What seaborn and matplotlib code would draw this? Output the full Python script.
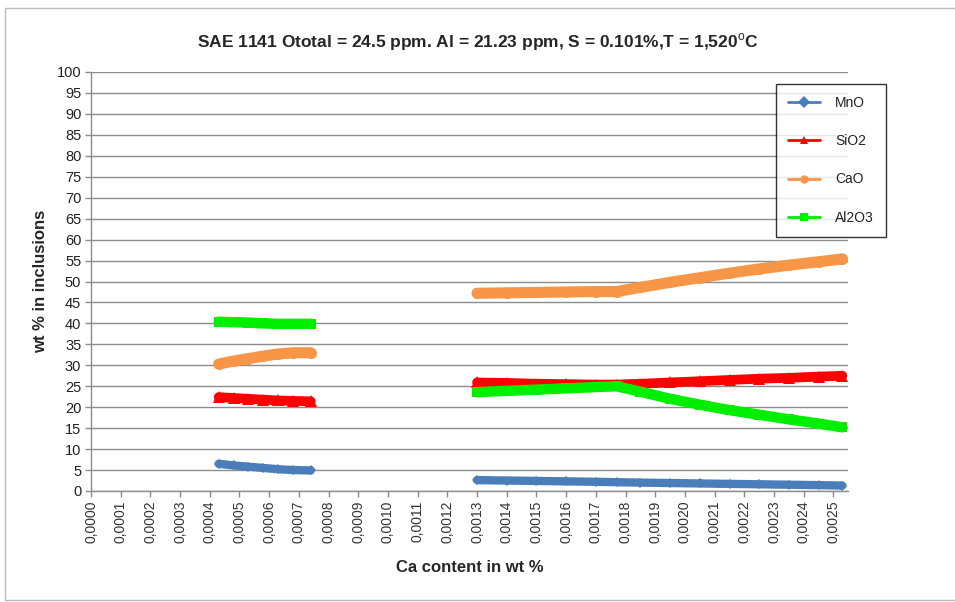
import numpy as np
import pandas as pd
import matplotlib
matplotlib.use("Agg")
import matplotlib.pyplot as plt
from matplotlib.lines import Line2D
from matplotlib.patches import Rectangle
import seaborn as sns

# ---- data ----
oxides = ["MnO", "SiO2", "CaO", "Al2O3"]

x_seg1 = [0.00043, 0.00048, 0.00053, 0.00058, 0.00063, 0.00068, 0.00074]
mno_seg1 = [6.5, 6.1, 5.8, 5.5, 5.2, 5.0, 4.9]
sio2_seg1 = [22.4, 22.2, 22.0, 21.8, 21.6, 21.5, 21.4]
cao_seg1 = [30.3, 31.0, 31.6, 32.2, 32.7, 33.0, 33.0]
al2o3_seg1 = [40.4, 40.3, 40.2, 40.0, 39.9, 39.9, 39.9]

x_seg2 = [0.00130, 0.00140, 0.00150, 0.00160, 0.00170, 0.00177, 0.00185,
          0.00195, 0.00205, 0.00215, 0.00225, 0.00235, 0.00245, 0.00253]
mno_seg2 = [2.6, 2.5, 2.4, 2.3, 2.2, 2.1, 2.0, 1.9, 1.8, 1.7, 1.6, 1.5, 1.4, 1.3]
sio2_seg2 = [25.9, 25.8, 25.6, 25.5, 25.4, 25.4, 25.6, 25.9, 26.2, 26.5, 26.8, 27.0, 27.3, 27.5]
cao_seg2 = [47.2, 47.3, 47.4, 47.5, 47.6, 47.6, 48.6, 49.8, 50.9, 52.0, 53.0, 53.9, 54.7, 55.4]
al2o3_seg2 = [23.6, 23.9, 24.2, 24.5, 24.8, 25.0, 23.7, 22.0, 20.6, 19.3, 18.2, 17.1, 16.1, 15.2]

x_ticks = [i * 0.0001 for i in range(26)]
y_ticks = list(range(0, 101, 5))

title = "SAE 1141 Ototal = 24.5 ppm. Al = 21.23 ppm, S = 0.101%,T = 1,520$^{\\mathrm{o}}$C"

# ---- build long table ----
rows = []
seg_data = {
    1: (x_seg1, {"MnO": mno_seg1, "SiO2": sio2_seg1, "CaO": cao_seg1, "Al2O3": al2o3_seg1}),
    2: (x_seg2, {"MnO": mno_seg2, "SiO2": sio2_seg2, "CaO": cao_seg2, "Al2O3": al2o3_seg2}),
}
for seg, (xs, d) in seg_data.items():
    for ox in oxides:
        for xv, yv in zip(xs, d[ox]):
            rows.append({"x": xv, "y": yv, "oxide": ox, "seg": seg})
df = pd.DataFrame(rows)

colors = {"MnO": "#4a7ebb", "SiO2": "#ff0000", "CaO": "#f79646", "Al2O3": "#00ee00"}
markers = {"MnO": "D", "SiO2": "^", "CaO": "o", "Al2O3": "s"}
lw = {"MnO": 6, "SiO2": 7, "CaO": 8, "Al2O3": 7.5}
ms = {"MnO": 5.5, "SiO2": 8, "CaO": 8, "Al2O3": 7}

sns.set_style("white")
plt.rcParams["font.family"] = ["Liberation Sans", "DejaVu Sans"]
plt.rcParams["mathtext.fontset"] = "custom"
plt.rcParams["mathtext.rm"] = "Liberation Sans"

fig = plt.figure(figsize=(9.55, 6.02), dpi=100)
ax = fig.add_axes([91 / 955, 1 - 491 / 602, (848 - 91) / 955, (491 - 72) / 602])

for ox in oxides:
    sub = df[df["oxide"] == ox]
    sns.lineplot(data=sub, x="x", y="y", units="seg", estimator=None, ax=ax,
                 color=colors[ox], linewidth=lw[ox], marker=markers[ox],
                 markersize=ms[ox], markeredgewidth=0, legend=False,
                 solid_capstyle="round", zorder=3)

ax.set_xticks(x_ticks)
ax.set_xticklabels([f"{v:.4f}".replace(".", ",") for v in x_ticks], rotation=90,
                   fontsize=10, color="#333333")
ax.set_yticks(y_ticks)
ax.set_yticklabels([str(v) for v in y_ticks], fontsize=10.5, color="#222222")
ax.set_xlim(0, 0.002549)
ax.set_ylim(0, 100)

ax.yaxis.grid(True, color="#8c8c8c", linewidth=1)
ax.xaxis.grid(False)
ax.set_axisbelow(True)
for s in ["top", "right"]:
    ax.spines[s].set_visible(False)
for s in ["left", "bottom"]:
    ax.spines[s].set_color("#8c8c8c")
    ax.spines[s].set_linewidth(1)
ax.tick_params(axis="both", direction="out", length=4, width=1, color="#8c8c8c",
               bottom=True, left=True, pad=3)

ax.set_xlabel("Ca content in wt %", fontsize=12, fontweight="bold", labelpad=12)
ax.set_ylabel("wt % in inclusions", fontsize=12, fontweight="bold", labelpad=6)
fig.text(478 / 955, 1 - 42 / 602, title, ha="center", va="center",
         fontsize=12.5, fontweight="bold")

handles = [Line2D([0], [0], color=colors[ox], marker=markers[ox], markersize=6,
                  linewidth=2, markeredgewidth=0) for ox in oxides]
leg = fig.legend(handles, oxides, loc="upper left",
                 bbox_to_anchor=(776 / 955, 1 - 84 / 602), fontsize=10,
                 frameon=True, fancybox=False, edgecolor="#000000",
                 labelspacing=1.75, handlelength=2.3, handletextpad=1.1,
                 borderpad=0.85, borderaxespad=0)
leg.get_frame().set_linewidth(1)
for t in leg.get_texts():
    t.set_color("#222222")

fig.patches.append(Rectangle((5 / 955, 0.003), 1.2, 1 - 8 / 602 - 0.003,
                             transform=fig.transFigure, fill=False,
                             edgecolor="#bbbbbb", linewidth=1))

fig.savefig("out.png", dpi=100)
